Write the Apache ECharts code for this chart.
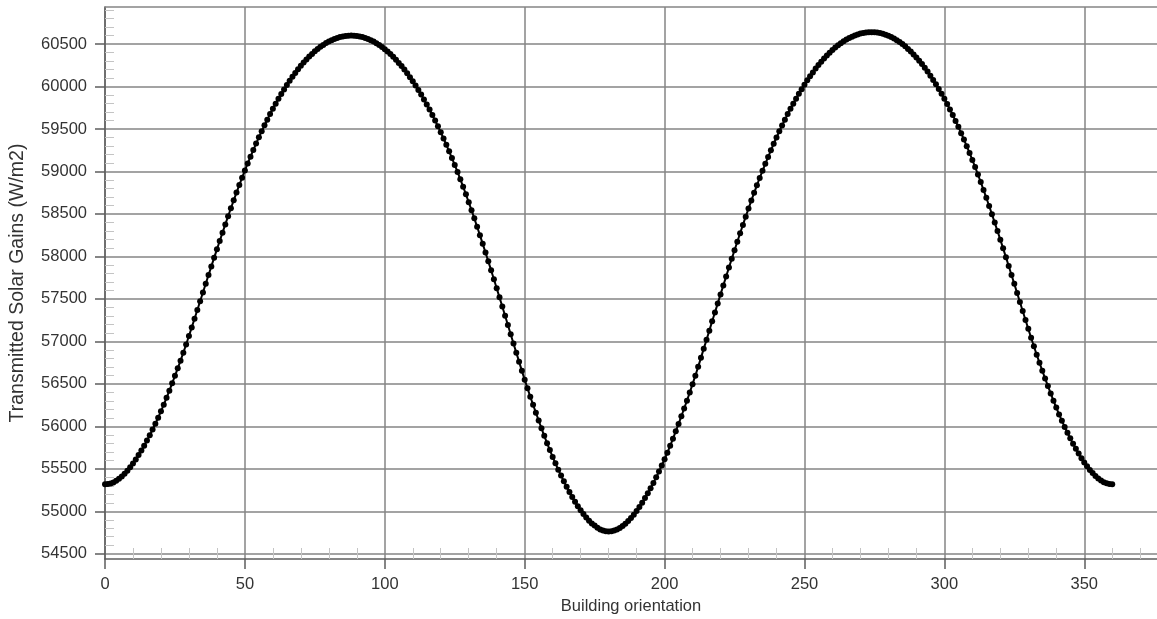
<!DOCTYPE html>
<html>
<head>
<meta charset="utf-8">
<script src="https://cdn.jsdelivr.net/npm/echarts@6/dist/echarts.min.js"></script>
<style>
  html, body { margin: 0; padding: 0; background: #ffffff; }
  #chart { width: 1157px; height: 619px; }
</style>
</head>
<body>
<div id="chart"></div>
<script>
// Transmitted solar gains (W/m2) for building orientations 0..360 degrees, one value per degree
const solarGains = [
  55317, 55320, 55328, 55340, 55358, 55382, 55410, 55442, 55478, 55518,
  55562, 55610, 55661, 55715, 55772, 55832, 55895, 55961, 56030, 56102,
  56177, 56255, 56336, 56420, 56506, 56594, 56682, 56773, 56867, 56963,
  57063, 57164, 57266, 57369, 57472, 57575, 57678, 57780, 57882, 57983,
  58083, 58182, 58280, 58377, 58473, 58567, 58660, 58751, 58840, 58927,
  59012, 59094, 59174, 59252, 59328, 59402, 59474, 59543, 59610, 59675,
  59738, 59798, 59856, 59912, 59966, 60018, 60068, 60115, 60160, 60203,
  60244, 60282, 60318, 60352, 60384, 60414, 60442, 60467, 60490, 60511,
  60530, 60546, 60560, 60572, 60582, 60590, 60596, 60599, 60600, 60599,
  60596, 60590, 60582, 60572, 60559, 60545, 60529, 60510, 60489, 60465,
  60440, 60412, 60382, 60349, 60315, 60278, 60240, 60199, 60155, 60110,
  60063, 60012, 59960, 59905, 59848, 59789, 59728, 59665, 59599, 59531,
  59461, 59389, 59314, 59237, 59158, 59077, 58994, 58908, 58821, 58731,
  58638, 58544, 58448, 58349, 58250, 58148, 58046, 57942, 57838, 57732,
  57626, 57518, 57410, 57302, 57193, 57084, 56975, 56867, 56761, 56653,
  56549, 56448, 56349, 56254, 56161, 56068, 55977, 55888, 55802, 55720,
  55640, 55564, 55490, 55420, 55352, 55288, 55226, 55168, 55113, 55060,
  55012, 54967, 54926, 54889, 54857, 54831, 54806, 54786, 54773, 54765,
  54762, 54765, 54773, 54785, 54803, 54826, 54854, 54885, 54921, 54960,
  55003, 55051, 55101, 55155, 55212, 55271, 55334, 55399, 55468, 55539,
  55612, 55690, 55771, 55855, 55941, 56028, 56118, 56210, 56302, 56398,
  56496, 56596, 56700, 56806, 56914, 57018, 57126, 57236, 57340, 57447,
  57553, 57659, 57764, 57868, 57971, 58073, 58173, 58273, 58371, 58468,
  58563, 58657, 58748, 58837, 58924, 59008, 59090, 59170, 59249, 59326,
  59400, 59472, 59542, 59609, 59675, 59738, 59798, 59857, 59914, 59969,
  60022, 60073, 60121, 60166, 60211, 60253, 60292, 60330, 60365, 60398,
  60430, 60459, 60486, 60510, 60532, 60553, 60571, 60587, 60601, 60612,
  60623, 60631, 60636, 60639, 60640, 60639, 60636, 60629, 60621, 60610,
  60598, 60583, 60566, 60546, 60524, 60500, 60473, 60443, 60412, 60378,
  60342, 60304, 60264, 60221, 60176, 60128, 60078, 60026, 59971, 59914,
  59855, 59794, 59730, 59664, 59595, 59525, 59451, 59376, 59298, 59218,
  59136, 59052, 58964, 58875, 58783, 58690, 58594, 58497, 58398, 58298,
  58197, 58095, 57991, 57887, 57782, 57677, 57570, 57464, 57358, 57252,
  57147, 57043, 56942, 56843, 56748, 56655, 56564, 56475, 56387, 56302,
  56220, 56140, 56066, 55993, 55924, 55858, 55795, 55735, 55679, 55625,
  55575, 55529, 55487, 55449, 55415, 55386, 55361, 55341, 55329, 55320,
  55317
];
const orientationStart = 0;   // degrees of the first value
const orientationStep = 1;    // degrees between values

// Axis ticks
const xTicks = [0, 50, 100, 150, 200, 250, 300, 350];
const xMinorTicks = [10, 20, 30, 40, 60, 70, 80, 90, 110, 120, 130, 140, 160, 170, 180, 190,
  210, 220, 230, 240, 260, 270, 280, 290, 310, 320, 330, 340, 360, 370];
const yTicks = [54500, 55000, 55500, 56000, 56500, 57000, 57500, 58000, 58500, 59000, 59500, 60000, 60500];
const yMinorTicks = [54600, 54700, 54800, 54900, 55100, 55200, 55300, 55400, 55600, 55700, 55800, 55900,
  56100, 56200, 56300, 56400, 56600, 56700, 56800, 56900, 57100, 57200, 57300, 57400,
  57600, 57700, 57800, 57900, 58100, 58200, 58300, 58400, 58600, 58700, 58800, 58900,
  59100, 59200, 59300, 59400, 59600, 59700, 59800, 59900, 60100, 60200, 60300, 60400,
  60600, 60700, 60800, 60900];

const xRange = [0, 376];
const yRange = [54438, 60936];

const points = solarGains.map((v, i) => [orientationStart + i * orientationStep, v]);

const FONT = '"Liberation Sans", Arial, sans-serif';
const gridColor = '#858585';
const axisColor = '#5e5e5e';
const plainNumber = (v) => String(v);

const chart = echarts.init(document.getElementById('chart'), null, { renderer: 'canvas' });
chart.setOption({
  animation: false,
  backgroundColor: '#ffffff',
  textStyle: { fontFamily: FONT },
  grid: { left: 105, right: 0, top: 7, bottom: 60, containLabel: false, outerBoundsMode: 'none' },
  xAxis: [
    {
      type: 'value', position: 'bottom', min: xRange[0], max: xRange[1],
      name: 'Building orientation', nameLocation: 'middle', nameGap: 39,
      nameTextStyle: { fontSize: 16.5, color: '#333', fontFamily: FONT },
      axisLine: { show: true, lineStyle: { color: axisColor, width: 1.5 } },
      axisTick: { show: true, customValues: xTicks, length: 10, lineStyle: { color: axisColor, width: 1.5 } },
      axisLabel: { customValues: xTicks, formatter: plainNumber, fontSize: 16.5, color: '#333', margin: 17, fontFamily: FONT },
      splitLine: { show: true, lineStyle: { color: gridColor, width: 1.5 } }
    },
    {
      type: 'value', position: 'bottom', min: xRange[0], max: xRange[1],
      axisLine: { show: false },
      axisTick: { show: true, inside: true, customValues: xMinorTicks, length: 11, lineStyle: { color: '#c4c4c4', width: 1 } },
      axisLabel: { show: false },
      splitLine: { show: false }
    },
    {
      type: 'value', position: 'top', min: xRange[0], max: xRange[1],
      axisLine: { show: true, lineStyle: { color: gridColor, width: 1.5 } },
      axisTick: { show: false },
      axisLabel: { show: false },
      splitLine: { show: false }
    }
  ],
  yAxis: [
    {
      type: 'value', position: 'left', min: yRange[0], max: yRange[1],
      name: 'Transmitted Solar Gains (W/m2)', nameLocation: 'middle', nameGap: 77, nameRotate: 90,
      nameTextStyle: { fontSize: 19.5, color: '#333', fontFamily: FONT },
      axisLine: { show: true, lineStyle: { color: axisColor, width: 1.5 } },
      axisTick: { show: true, customValues: yTicks, length: 10, lineStyle: { color: axisColor, width: 1.5 } },
      axisLabel: { customValues: yTicks, formatter: plainNumber, fontSize: 16.5, color: '#333', margin: 18, fontFamily: FONT },
      splitLine: { show: true, lineStyle: { color: gridColor, width: 1.5 } }
    },
    {
      type: 'value', position: 'left', min: yRange[0], max: yRange[1],
      axisLine: { show: false },
      axisTick: { show: true, inside: true, customValues: yMinorTicks, length: 9, lineStyle: { color: '#c4c4c4', width: 1 } },
      axisLabel: { show: false },
      splitLine: { show: false }
    }
  ],
  series: [
    {
      type: 'line',
      xAxisIndex: 0,
      yAxisIndex: 0,
      data: points,
      symbol: 'circle',
      symbolSize: 6,
      showSymbol: true,
      lineStyle: { color: '#000000', width: 2 },
      itemStyle: { color: '#000000' },
      silent: true,
      z: 5
    }
  ]
});
</script>
</body>
</html>
